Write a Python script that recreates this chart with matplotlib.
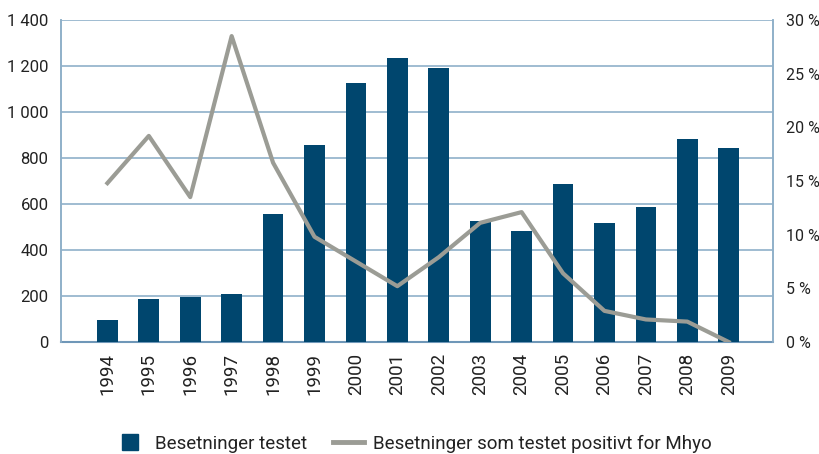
import numpy as np
import matplotlib.pyplot as plt
from matplotlib.lines import Line2D
from matplotlib.ticker import FuncFormatter

plt.rcParams['font.family'] = ['Roboto', 'DejaVu Sans']

# Data
years = ['1994', '1995', '1996', '1997', '1998', '1999', '2000', '2001',
         '2002', '2003', '2004', '2005', '2006', '2007', '2008', '2009']
tested = [97, 188, 194, 210, 557, 857, 1127, 1235,
          1192, 527, 484, 688, 518, 588, 883, 844]
positive_pct = [14.8, 19.2, 13.5, 28.5, 16.7, 9.8, 7.5, 5.2,
                7.9, 11.1, 12.1, 6.4, 2.9, 2.1, 1.9, 0.0]

bar_color = '#00466e'
line_color = '#9b9c95'
grid_color = '#8fb0c9'
text_color = '#222222'

fig = plt.figure(figsize=(8.2, 4.54), dpi=100)
ax = fig.add_axes([0.0744, 0.2467, 0.8683, 0.7093])
ax2 = ax.twinx()

x = np.arange(len(years))
ax.bar(x, tested, width=0.5, color=bar_color, zorder=3)
ax2.plot(x, positive_pct, color=line_color, linewidth=3, zorder=4)

ax.set_xlim(-1.12, 16.07)
ax.set_ylim(0, 1400)
ax.set_yticks(range(0, 1401, 200))
ax.yaxis.set_major_formatter(FuncFormatter(lambda v, p: f'{int(v):,}'.replace(',', ' ')))
ax2.set_ylim(0, 30)
ax2.set_yticks(range(0, 31, 5))
ax2.yaxis.set_major_formatter(FuncFormatter(lambda v, p: f'{int(v)} %'))

ax.set_xticks(x)
ax.set_xticklabels(years, rotation=90)
ax.grid(axis='y', color=grid_color, linewidth=1.2, zorder=0)
ax.set_axisbelow(True)

for a in (ax, ax2):
    a.tick_params(length=0, labelsize=12, colors=text_color)
    for s in ('top', 'bottom'):
        a.spines[s].set_visible(False)
    a.spines['left'].set_color(grid_color)
    a.spines['right'].set_color(grid_color)
    a.spines['left'].set_linewidth(1.2)
    a.spines['right'].set_linewidth(1.2)
ax.spines['bottom'].set_visible(True)
ax.spines['bottom'].set_color('#6f97b8')
ax.spines['bottom'].set_linewidth(1.5)
ax.tick_params(axis='y', pad=9)
ax.tick_params(axis='x', pad=8, labelsize=13.5)
ax2.tick_params(axis='y', pad=9, labelsize=11.5)

handles = [Line2D([], [], marker='s', markersize=11, color=bar_color, linestyle='none'),
           Line2D([], [], color=line_color, linewidth=3.5)]
labels = ['Besetninger testet', 'Besetninger som testet positivt for Mhyo']
fig.legend(handles, labels, loc='lower center', bbox_to_anchor=(0.504, -0.035),
           ncol=2, frameon=False, fontsize=13.5, handlelength=1.65,
           handletextpad=0.5, columnspacing=1.4, labelcolor=text_color)

fig.savefig('out.png', dpi=100)
